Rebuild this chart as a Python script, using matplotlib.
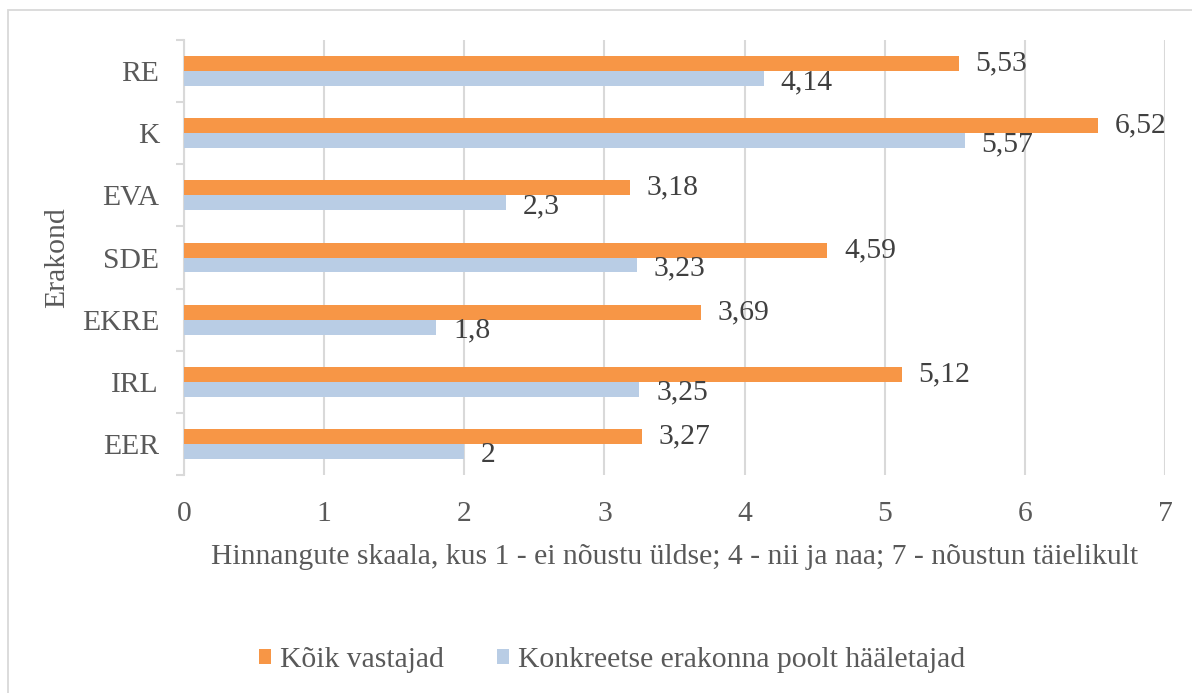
import numpy as np
import matplotlib.pyplot as plt
from matplotlib.patches import Rectangle

# data (top to bottom as in the chart)
parties = ['RE', 'K', 'EVA', 'SDE', 'EKRE', 'IRL', 'EER']
koik = [5.53, 6.52, 3.18, 4.59, 3.69, 5.12, 3.27]
konkreetne = [4.14, 5.57, 2.3, 3.23, 1.8, 3.25, 2]
x_ticks = [0, 1, 2, 3, 4, 5, 6, 7]

orange = '#F79646'
blue = '#B9CDE5'
grey_txt = '#595959'
grey_line = '#D9D9D9'
fs = 21.3

plt.rcParams['font.family'] = ['Liberation Serif', 'DejaVu Serif']
plt.rcParams['font.size'] = fs

fig = plt.figure(figsize=(11.92, 6.93), dpi=100)
ax = fig.add_axes([184/1192, 1-475/693, (1165-184)/1192, (475-40)/693])

y = np.arange(len(parties))
h = 0.241
ax.barh(y - h/2, koik, height=h, color=orange, label='Kõik vastajad', zorder=3)
ax.barh(y + h/2, konkreetne, height=h, color=blue,
        label='Konkreetse erakonna poolt hääletajad', zorder=3)

def fmt(v):
    return f'{v:g}'.replace('.', ',')

for yi, v in zip(y, koik):
    ax.annotate(fmt(v), (v, yi - h/2), xytext=(12, 0), textcoords='offset points',
                va='center', ha='left', color='#404040', fontsize=fs)
for yi, v in zip(y, konkreetne):
    ax.annotate(fmt(v), (v, yi + h/2), xytext=(12, -2.5), textcoords='offset points',
                va='center', ha='left', color='#404040', fontsize=fs)

ax.set_ylim(len(parties) - 0.5, -0.5)
ax.set_xlim(0, 7)
ax.set_xticks(x_ticks)
ax.set_xticklabels([str(t) for t in x_ticks])
ax.set_yticks(y)
ax.set_yticklabels(parties)
ax.set_yticks(np.arange(-0.5, len(parties)), minor=True)

ax.grid(axis='x', color=grey_line, lw=1.5, zorder=0)
ax.set_axisbelow(True)
for s in ['top', 'right', 'bottom']:
    ax.spines[s].set_visible(False)
ax.spines['left'].set_color(grey_line)
ax.spines['left'].set_linewidth(1.5)

ax.tick_params(axis='x', length=0, pad=19, colors=grey_txt, labelsize=fs)
ax.tick_params(axis='y', which='major', length=0, pad=18, colors=grey_txt, labelsize=fs)
ax.tick_params(axis='y', which='minor', length=6, width=1.5, color=grey_line)

ax.set_xlabel('Hinnangute skaala, kus 1 - ei nõustu üldse; 4 - nii ja naa; 7 - nõustun täielikult',
              color=grey_txt, fontsize=fs, labelpad=12)
ax.set_ylabel('Erakond', color=grey_txt, fontsize=fs)
ax.yaxis.set_label_coords((70 - 184) / (1165 - 184), 0.5)

fig.legend(loc='center', bbox_to_anchor=(612/1192, 1-660/693), ncol=2, frameon=False,
           handlelength=0.4, handleheight=0.4, handletextpad=0.3, columnspacing=1.8,
           fontsize=fs, labelcolor=grey_txt)

fig.patches.append(Rectangle((8/1192, -0.1), 1.2, 1 - 10/693 + 0.1, transform=fig.transFigure,
                             fill=False, edgecolor=grey_line, lw=1.3))

fig.savefig('out.png', dpi=100)
